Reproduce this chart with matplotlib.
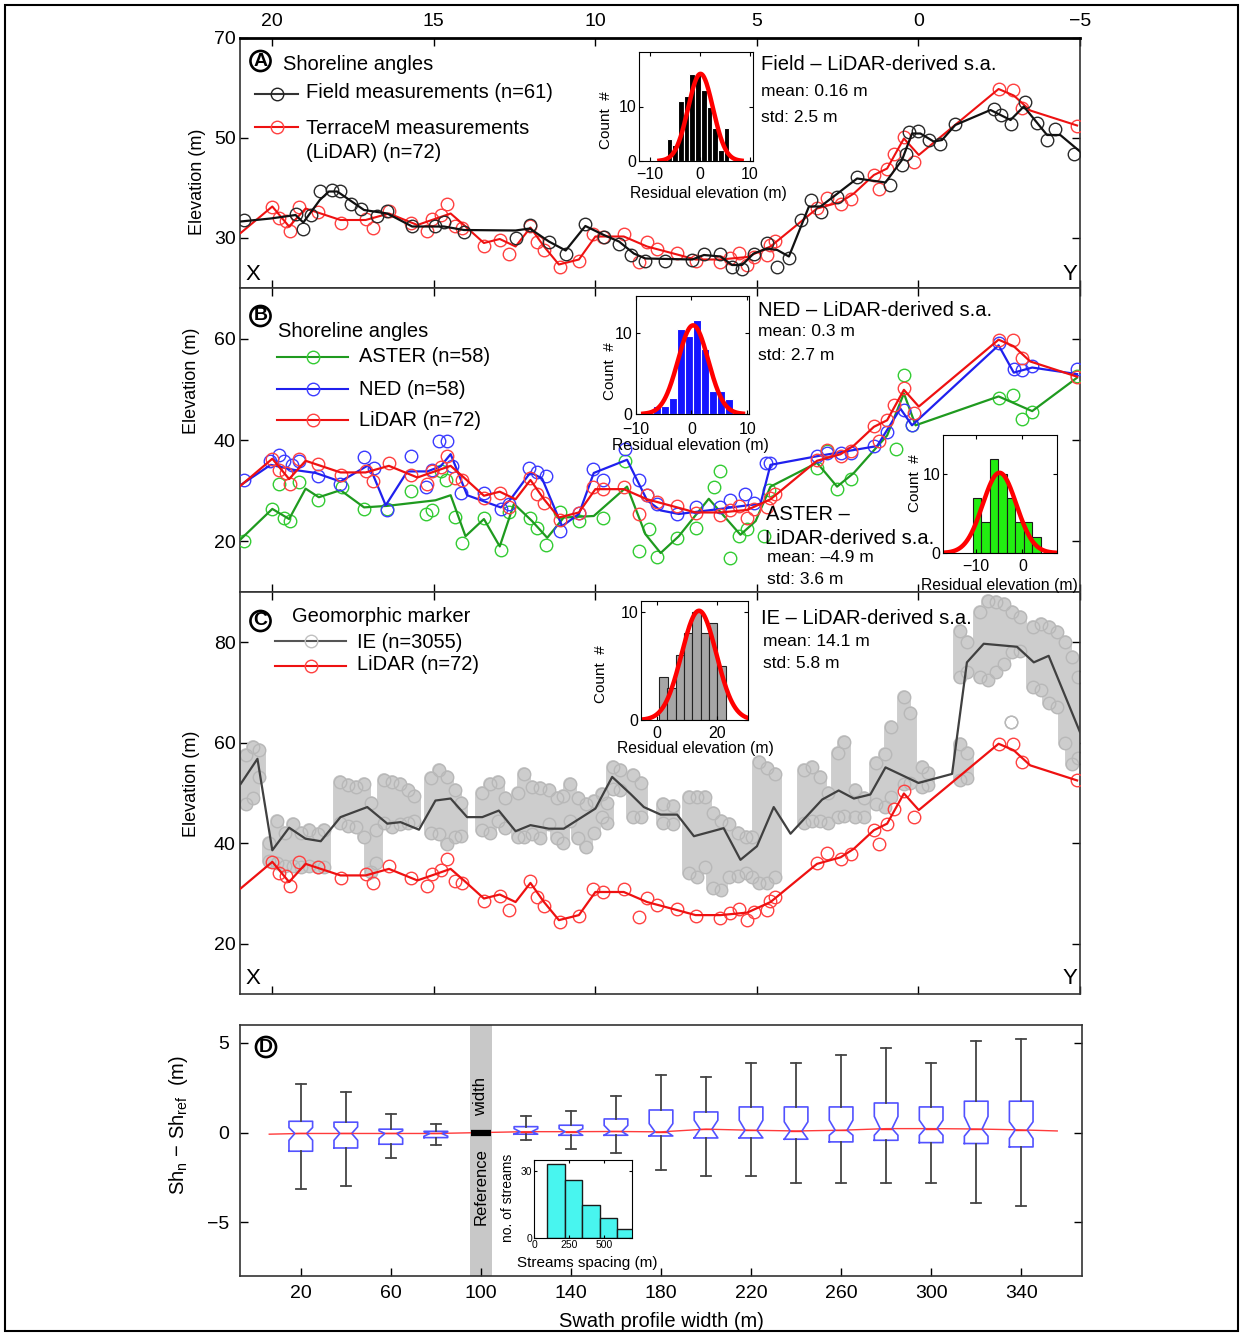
import matplotlib
matplotlib.use('Agg')
import matplotlib.pyplot as plt
import numpy as np
from matplotlib.lines import Line2D
from matplotlib.patches import Rectangle

plt.rcParams['font.family'] = ['Liberation Sans', 'DejaVu Sans']
plt.rcParams['mathtext.fontset'] = 'custom'
plt.rcParams['mathtext.rm'] = 'Liberation Sans'
plt.rcParams['mathtext.it'] = 'Liberation Sans'

W, H = 1242, 1334

# ---- shoreline angles along the profile (distance in km, elevation in m) ----
field_km = [20.88, 19.28, 19.04, 18.81, 18.53, 18.14, 17.89, 17.55, 17.24, 16.75,
            16.44, 15.67, 14.95, 14.69, 14.07, 12.47, 12.03, 11.44, 10.92, 10.31,
            9.74, 9.27, 8.91, 8.45, 7.83, 7.0, 6.64, 6.13, 5.77, 5.46,
            5.1, 4.68, 4.37, 4.01, 3.65, 3.34, 3.03, 2.52, 1.9, 0.87,
            0.51, 0.4, 0.3, 0.0, -0.32, -0.68, -1.14, -2.33, -2.54, -2.85,
            -3.31, -3.67, -3.98, -4.24, -4.8]
field_elev = [33.6, 34.9, 31.9, 34.6, 39.5, 39.7, 39.5, 36.8, 35.9, 34.4,
              35.5, 32.4, 32.4, 33.3, 31.3, 30.1, 32.6, 29.3, 26.9, 32.9,
              30.3, 28.9, 26.6, 25.5, 25.5, 25.6, 26.8, 26.8, 24.3, 23.9,
              26.9, 29.1, 24.3, 26.1, 33.6, 37.6, 35.3, 38.3, 42.3, 40.6,
              44.6, 46.9, 51.3, 51.5, 49.6, 48.9, 52.9, 55.9, 54.6, 52.9,
              57.3, 53.1, 49.6, 51.9, 46.9]
field_line_km = [20.98, 20.05, 19.28, 19.04, 18.53, 18.25, 17.99, 17.16, 16.44, 15.67,
                 14.69, 14.07, 12.47, 12.03, 11.44, 10.92, 10.31, 9.74, 9.27, 8.81,
                 8.45, 7.0, 6.64, 6.13, 5.77, 5.46, 5.1, 4.68, 4.37, 4.01,
                 3.39, 3.03, 1.9, 1.02, 0.51, 0.2, -0.06, -0.47, -0.73, -1.14,
                 -2.23, -2.85, -3.26, -3.98, -4.39, -5.0]
field_line_elev = [33.3, 33.9, 34.6, 33.1, 37.6, 39.3, 39.3, 35.6, 34.9, 32.3,
                   32.3, 31.6, 31.5, 31.9, 29.3, 27.5, 32.4, 30.6, 29.3, 26.9,
                   25.9, 25.7, 26.6, 26.3, 24.6, 24.6, 26.9, 27.9, 27.6, 26.3,
                   36.3, 36.3, 41.9, 41.1, 45.6, 50.9, 50.9, 49.3, 49.6, 52.6,
                   55.6, 53.6, 56.3, 50.6, 50.6, 47.3]

lidar_km = [20.0, 19.79, 19.59, 19.45, 19.17, 18.59, 17.87, 17.11, 16.88, 16.39,
            15.72, 15.22, 15.05, 14.79, 14.59, 14.36, 14.12, 13.45, 12.96, 12.68,
            12.01, 11.82, 11.59, 11.1, 10.51, 10.07, 9.76, 9.1, 8.65, 8.4,
            8.09, 7.47, 6.9, 6.13, 5.82, 5.56, 5.3, 5.1, 4.68, 4.58,
            4.43, 3.14, 2.83, 2.41, 2.1, 1.38, 1.23, 0.97, 0.76, 0.45,
            0.15, -2.48, -2.92, -3.21, -4.91]
lidar_elev = [36.3, 34.0, 33.4, 31.4, 36.3, 35.3, 33.1, 33.9, 32.0, 35.4,
              33.1, 31.4, 33.9, 34.7, 36.9, 32.5, 32.1, 28.5, 29.6, 26.8,
              32.5, 29.3, 27.6, 24.3, 25.5, 30.8, 30.3, 30.8, 25.3, 29.2,
              27.8, 27.0, 25.5, 25.2, 26.1, 27.0, 24.7, 26.3, 26.7, 28.6,
              29.4, 36.1, 38.1, 36.9, 37.9, 42.7, 39.9, 43.9, 46.9, 50.3,
              45.3, 59.8, 59.7, 56.1, 52.5]
lidar_line_km = [20.98, 20.0, 19.48, 18.97, 17.89, 17.11, 16.39, 15.51, 14.48, 14.07,
                 13.45, 12.96, 12.47, 12.01, 11.59, 11.13, 10.51, 10.0, 9.12, 8.4,
                 7.47, 6.9, 6.13, 5.3, 4.58, 3.14, 2.41, 2.0, 1.38, 0.97,
                 0.45, -0.01, -2.48, -2.95, -3.46, -4.91]
lidar_line_elev = [31.0, 36.3, 32.3, 35.9, 33.6, 33.6, 34.9, 32.6, 34.9, 32.6,
                   29.0, 29.8, 28.3, 32.1, 28.3, 24.7, 25.7, 30.3, 30.3, 28.3,
                   26.7, 25.7, 25.7, 26.2, 28.3, 35.9, 37.2, 38.9, 42.6, 43.9,
                   49.9, 46.6, 59.8, 58.5, 55.5, 52.5]

ned_km = [20.88, 20.07, 19.79, 19.64, 19.38, 19.17, 18.59, 17.89, 17.16, 16.85,
          16.44, 15.72, 15.25, 15.05, 14.84, 14.59, 14.43, 14.17, 13.45, 12.93,
          12.68, 12.06, 11.82, 11.54, 11.08, 10.51, 10.07, 9.76, 9.07, 8.66,
          8.4, 8.09, 7.47, 6.9, 6.13, 5.82, 5.36, 5.1, 4.73, 4.58,
          3.14, 2.83, 2.41, 2.1, 1.38, 0.97, 0.45, 0.2, -2.48, -2.95,
          -3.21, -3.52, -4.91]
ned_elev = [32.2, 35.8, 37.1, 35.8, 35.1, 35.8, 32.9, 31.4, 36.7, 34.5,
            26.2, 36.8, 30.8, 34.1, 39.8, 39.8, 34.8, 29.6, 29.6, 26.4,
            27.4, 34.5, 33.6, 32.8, 22.0, 25.5, 34.3, 32.2, 38.2, 32.2,
            29.1, 27.4, 25.4, 26.7, 26.7, 28.1, 29.4, 27.5, 35.5, 35.5,
            36.8, 37.5, 37.5, 37.5, 38.8, 41.5, 45.9, 42.9, 59.1, 54.0,
            53.8, 54.6, 54.0]
ned_line_km = [20.98, 20.05, 19.33, 18.66, 17.89, 17.01, 16.49, 15.82, 15.2, 14.79,
               14.48, 13.97, 12.93, 12.65, 12.01, 11.65, 11.03, 10.51, 10.05, 9.02,
               8.4, 7.98, 7.42, 6.13, 5.3, 4.89, 4.58, 3.14, 1.28, 0.56,
               0.2, -2.48, -2.95, -3.52, -4.91]
ned_line_elev = [31.1, 35.1, 34.1, 33.5, 31.8, 35.1, 27.1, 33.8, 33.8, 34.8,
                 37.2, 29.1, 26.7, 28.1, 33.6, 32.4, 23.0, 25.4, 33.5, 36.1,
                 28.1, 26.1, 25.4, 26.4, 27.1, 27.4, 35.1, 36.8, 38.8, 46.2,
                 42.9, 58.7, 53.3, 54.3, 53.0]

aster_km = [20.88, 20.0, 19.79, 19.64, 19.45, 19.17, 18.59, 17.83, 17.16, 16.44,
            15.72, 15.25, 15.05, 14.79, 14.61, 14.36, 14.12, 13.45, 12.93, 12.68,
            12.01, 11.82, 11.54, 11.08, 10.51, 9.76, 9.07, 8.66, 8.35, 8.09,
            7.47, 6.9, 6.33, 6.13, 5.82, 5.56, 5.3, 4.79, 4.63, 3.14,
            2.83, 2.52, 2.1, 0.71, 0.45, 0.2, -2.48, -2.92, -3.21, -3.52,
            -4.91]
aster_elev = [20.0, 26.4, 31.4, 24.7, 24.0, 31.8, 28.1, 30.8, 26.4, 26.4,
              30.0, 25.4, 26.2, 33.8, 32.1, 24.9, 19.7, 24.7, 18.3, 25.7,
              24.7, 22.7, 19.3, 25.7, 24.0, 24.7, 35.8, 18.0, 22.4, 17.0,
              20.7, 22.7, 30.8, 33.8, 16.7, 21.0, 22.4, 21.0, 30.1, 34.5,
              37.8, 30.4, 32.4, 38.2, 52.8, 42.9, 48.2, 48.9, 44.2, 45.5,
              52.6]
aster_line_km = [20.98, 20.0, 19.48, 18.97, 18.56, 17.89, 17.16, 16.44, 14.95, 14.48,
                 14.02, 13.45, 12.96, 12.52, 11.96, 11.49, 10.98, 10.05, 9.02, 8.45,
                 7.98, 7.42, 6.49, 5.51, 5.04, 4.58, 3.14, 2.52, 2.0, 0.97,
                 0.45, 0.09, -2.48, -3.52, -4.91]
aster_line_elev = [20.4, 26.4, 24.4, 30.4, 28.7, 30.1, 26.7, 27.0, 28.1, 29.1,
                   21.0, 24.4, 19.0, 27.4, 24.0, 20.7, 24.7, 25.0, 30.8, 21.4,
                   17.7, 21.0, 28.4, 21.3, 24.0, 30.8, 35.5, 30.8, 33.5, 40.9,
                   49.2, 42.9, 48.6, 45.7, 52.3]

# IE geomorphic marker: stacks of points per position (bottom and top of each stack)
ie_km = [20.8, 20.6, 20.4,
         20.1, 19.85, 19.6, 19.35, 19.1, 18.85, 18.6, 18.4,
         17.9, 17.65, 17.4, 17.15, 16.95, 16.8,
         16.55, 16.3, 16.05, 15.8, 15.6,
         15.1, 14.85, 14.6, 14.35, 14.15,
         13.5, 13.25, 13.0, 12.8,
         12.4, 12.2, 11.95, 11.7, 11.45, 11.2, 11.0,
         10.8, 10.55, 10.3, 10.05, 9.8, 9.65,
         9.45, 9.25, 8.85, 8.6,
         7.9, 7.6,
         7.1, 6.85, 6.6, 6.35, 6.1, 5.85, 5.6, 5.35,
         5.15, 4.95, 4.7, 4.45,
         3.55, 3.3, 3.05, 2.8,
         2.5, 2.3,
         1.95, 1.7,
         1.3, 1.05, 0.85,
         0.45, 0.25,
         -0.1, -0.3,
         -1.3, -1.5,
         -1.3, -1.5, -1.9, -2.15, -2.4, -2.65, -2.9, -3.15, -3.55, -3.8,
         -4.05, -4.3, -4.55, -4.75, -4.95,
         -2.85]
ie_lo = [47.9, 49.0, 53.2,
         36.5, 36.0, 35.5, 35.5, 35.3, 35.5, 35.3, 35.3,
         44.0, 43.5, 43.2, 41.2, 34.3, 36.0,
         44.0, 43.2, 43.9, 44.0, 44.5,
         42.0, 41.9, 39.9, 41.2, 41.5,
         42.6, 42.0, 44.5, 43.0,
         41.2, 41.2, 41.9, 41.0, 43.9, 41.0, 40.0,
         44.5, 41.0, 39.2, 42.0, 45.2, 44.0,
         50.8, 50.5, 45.2, 45.2,
         44.0, 43.9,
         34.0, 33.3, 35.3, 31.0, 30.6, 33.3, 33.5, 34.0,
         33.3, 32.0, 32.0, 33.3,
         44.0, 44.5, 44.5, 44.0,
         45.2, 45.5,
         45.2, 45.2,
         47.9, 47.2, 49.2,
         51.8, 52.0,
         51.2, 51.5,
         52.5, 53.0,
         73.0, 74.0, 73.0, 72.4, 74.0, 75.7, 78.0, 78.3, 71.0, 70.4,
         68.0, 67.1, 60.0, 55.8, 57.0,
         64.1]
ie_hi = [57.5, 59.1, 58.5,
         40.0, 44.5, 42.0, 43.9, 42.0, 42.6, 41.9, 42.6,
         52.2, 51.5, 51.2, 51.8, 48.0, 42.6,
         52.5, 52.2, 51.8, 50.5, 49.5,
         53.0, 54.5, 53.2, 50.5, 48.0,
         50.0, 51.8, 52.2, 49.0,
         50.0, 53.8, 51.2, 51.0, 50.5, 49.0, 49.5,
         51.8, 49.0, 47.9, 48.5, 49.8, 48.0,
         55.1, 54.5, 53.5, 52.0,
         47.9, 47.5,
         49.2, 49.2, 49.2, 46.0, 44.5, 43.9, 42.0, 41.2,
         41.2, 56.1, 55.0, 53.8,
         54.5, 55.1, 53.2, 50.0,
         58.0, 60.1,
         50.5, 49.0,
         56.0, 57.7, 63.1,
         69.1, 66.0,
         55.1, 54.0,
         59.8, 58.0,
         82.3, 80.0, 86.0, 88.3, 88.0, 87.6, 86.0, 85.0, 83.0, 83.6,
         83.0, 82.0, 80.0, 77.0, 73.0,
         64.1]
ie_line_km = [20.98, 20.46, 20.0, 19.48, 18.97, 18.5, 17.89, 17.06, 16.44, 16.03,
              15.46, 14.95, 14.48, 13.97, 13.5, 12.99, 12.47, 12.01, 11.44, 10.98,
              10.0, 9.48, 8.91, 8.5, 7.98, 7.47, 6.95, 6.03, 5.51, 5.0,
              4.48, 3.96, 2.98, 2.47, 2.0, 1.49, 1.02, 0.0, -1.04, -1.5,
              -2.02, -3.05, -3.57, -4.03, -5.0]
ie_line_elev = [51.8, 56.8, 38.6, 43.1, 40.9, 40.4, 45.2, 47.2, 43.9, 44.2,
                42.7, 48.5, 48.9, 45.2, 45.2, 46.5, 42.4, 43.6, 42.9, 42.9,
                46.9, 53.2, 49.8, 47.2, 45.7, 45.7, 41.4, 43.0, 36.7, 39.4,
                47.2, 41.9, 48.7, 50.5, 48.9, 49.7, 55.1, 52.0, 53.8, 76.0,
                79.7, 79.1, 76.0, 77.3, 62.1]

# ---- residual histograms ----
field_res_bins = [-6.1, -4.95, -3.8, -2.65, -1.5, -0.35, 0.8, 1.95, 3.1, 4.25, 5.4]
field_res_counts = [4, 3, 11, 12, 16, 16, 13, 10, 6, 2, 6]
ned_res_bins = [-6.1, -4.68, -3.26, -1.84, -0.42, 1.0, 2.42, 3.84, 5.26, 6.68]
ned_res_counts = [1, 1, 2, 10.5, 9.6, 11.5, 8, 2.8, 2.8, 1.8]
aster_res_bins = [-9.7, -7.9, -6.1, -4.3, -2.5, -0.65, 1.2, 3.0]
aster_res_counts = [7, 4, 12, 10, 7, 4, 4, 2]
ie_res_bins = [2.2, 4.95, 7.7, 10.5, 13.3, 16.1, 18.8, 21.6]
ie_res_counts = [4, 3, 6, 8, 10, 8, 9, 5]

# ---- swath width sensitivity ----
swath_width = [20, 40, 60, 80, 120, 140, 160, 180, 200, 220, 240, 260, 280, 300, 320, 340]
sh_whishi = [2.73, 2.27, 1.06, 0.5, 0.91, 1.21, 2.04, 3.23, 3.1, 3.9, 3.9, 4.31, 4.7, 3.9, 5.13, 5.24]
sh_q3 = [0.63, 0.58, 0.19, 0.07, 0.33, 0.41, 0.76, 1.26, 1.15, 1.43, 1.43, 1.43, 1.65, 1.43, 1.75, 1.75]
sh_med = [-0.05, -0.05, -0.05, -0.05, 0.05, 0.05, 0.06, 0.04, 0.19, 0.13, 0.09, 0.13, 0.22, 0.22, 0.2, 0.15]
sh_q1 = [-1.04, -0.86, -0.65, -0.28, -0.09, -0.15, -0.15, -0.19, -0.3, -0.3, -0.37, -0.52, -0.43, -0.56, -0.61, -0.8]
sh_whislo = [-3.16, -2.97, -1.41, -0.69, -0.43, -0.89, -1.13, -2.1, -2.42, -2.43, -2.84, -2.84, -2.84, -2.84, -3.92, -4.07]
sh_cihi = [0.28, 0.32, 0.1, 0.04, 0.22, 0.22, 0.4, 0.5, 0.69, 0.69, 0.6, 0.69, 0.9, 0.69, 0.9, 0.6]
sh_cilo = [-0.43, -0.43, -0.33, -0.2, -0.09, -0.15, -0.15, -0.19, -0.3, -0.3, -0.37, -0.15, -0.15, -0.15, -0.2, -0.33]
ref_width = 100
trend_width = [6, 20, 40, 60, 80, 100, 120, 140, 160, 180, 200, 220, 240, 260, 280, 300, 320, 340, 356]
trend_diff = [-0.09, -0.05, -0.05, -0.05, -0.05, 0.0, 0.05, 0.05, 0.06, 0.04, 0.19, 0.13,
              0.09, 0.13, 0.22, 0.22, 0.2, 0.15, 0.09]
spacing_bins = [158.5, 283.5, 408.5, 533.5, 658.5]
spacing_counts = [33, 26, 15, 9, 4]

fig = plt.figure(figsize=(W / 100, H / 100), dpi=100)


def px_axes(l, t, r, b):
    return fig.add_axes([l / W, 1 - b / H, (r - l) / W, (b - t) / H])


def ftext(x, y, s, **kw):
    kw.setdefault('va', 'center')
    kw.setdefault('ha', 'left')
    return fig.text(x / W, 1 - y / H, s, **kw)


def key(x0, x1, y, lc, mc):
    fy = 1 - y / H
    fig.add_artist(Line2D([x0 / W, x1 / W], [fy, fy], color=lc, lw=1.5))
    fig.add_artist(Line2D([(x0 + x1) / 2 / W], [fy], ls='none', marker='o', ms=9,
                          mfc='none', mec=mc, mew=1.0))


def badge(x, y, s):
    ftext(x, y, s, ha='center', fontsize=14, fontweight='bold',
          bbox=dict(boxstyle='circle,pad=0.08', fc='white', ec='black', lw=1.9))


def profile_axes(ax, ylim, yticks, lab_x, lab_y):
    ax.set_xlim(21, -5)
    ax.set_ylim(*ylim)
    ax.set_xticks([20, 15, 10, 5, 0, -5])
    ax.set_yticks(yticks)
    ax.tick_params(direction='in', top=True, right=True, length=6, width=1,
                   labelsize=14, labelbottom=False, pad=3)
    ax.set_ylabel('Elevation (m)', fontsize=13)
    ax.yaxis.set_label_coords(lab_x, lab_y)
    for sp in ax.spines.values():
        sp.set_linewidth(1.2)
        sp.set_color('#333333')


def pts(ax, km, elev, color, z=3):
    ax.plot(km, elev, ls='none', marker='o', ms=9, mfc='none', mec=color, mew=1.0, zorder=z)


def hist_inset(rect, centers, counts, width, fc, ec, xlim, ylim, xticks, yticks,
               mean, std, amp, ylab, xlab, xpad=4.5):
    ax = px_axes(*rect)
    ax.bar(centers, counts, width=width, color=fc, edgecolor=ec, linewidth=0.8)
    xs = np.linspace(mean - 3.3 * std, mean + 3.3 * std, 200)
    ax.plot(xs, amp * np.exp(-0.5 * ((xs - mean) / std) ** 2), color='#ff0000', lw=3.2)
    ax.set_xlim(*xlim)
    ax.set_ylim(*ylim)
    ax.set_xticks(xticks)
    ax.set_yticks(yticks)
    ax.tick_params(direction='in', top=True, right=True, length=3, labelsize=11.5, pad=2)
    ax.tick_params(axis='x', pad=xpad)
    ax.set_ylabel('Count  #', fontsize=11)
    ax.yaxis.set_label_coords(*ylab)
    ax.set_xlabel('Residual elevation (m)', fontsize=11.3)
    ax.xaxis.set_label_coords(*xlab)
    return ax


# ---------------- panel A ----------------
axa = px_axes(240, 38, 1080, 288)
pts(axa, lidar_km, lidar_elev, '#ff4040')
axa.plot(lidar_line_km, lidar_line_elev, color='#ee1111', lw=1.5, zorder=4)
pts(axa, field_km, field_elev, '#2a2a2a', z=5)
axa.plot(field_line_km, field_line_elev, color='#111111', lw=1.6, zorder=6)
profile_axes(axa, (20, 70), [30, 50, 70], -0.040, 0.424)
axa.tick_params(axis='x', labeltop=True, pad=6)
axa.spines['top'].set_linewidth(2)
axa.spines['top'].set_color('black')

badge(260.5, 61, 'A')
ftext(283, 65, 'Shoreline angles', fontsize=14.5)
key(255, 298, 94, '#333333', '#222222')
ftext(306, 93, 'Field measurements (n=61)', fontsize=14.5)
key(255, 298, 127, '#ee1111', '#ff4040')
ftext(306, 128, 'TerraceM measurements', fontsize=14.5)
ftext(306, 153, '(LiDAR) (n=72)', fontsize=14.5)
ftext(761, 64, 'Field – LiDAR-derived s.a.', fontsize=14.5)
ftext(761, 92, 'mean: 0.16 m', fontsize=12.5)
ftext(761, 117, 'std: 2.5 m', fontsize=12.5)
ftext(253, 275, 'X', ha='center', fontsize=16)
ftext(1070, 274, 'Y', ha='center', fontsize=16)

# ---------------- panel B ----------------
axb = px_axes(240, 288, 1080, 592)
pts(axb, aster_km, aster_elev, '#33cc33')
axb.plot(aster_line_km, aster_line_elev, color='#1f9a1f', lw=1.6, zorder=4)
pts(axb, ned_km, ned_elev, '#3b3bff', z=5)
axb.plot(ned_line_km, ned_line_elev, color='#2020ee', lw=1.6, zorder=6)
pts(axb, lidar_km, lidar_elev, '#ff4040', z=7)
axb.plot(lidar_line_km, lidar_line_elev, color='#ee1111', lw=1.6, zorder=8)
profile_axes(axb, (10, 70), [20, 40, 60], -0.048, 0.694)

badge(260.5, 316, 'B')
ftext(278, 332, 'Shoreline angles', fontsize=14.5)
key(277, 348, 357, '#1f9a1f', '#33cc33')
ftext(359, 357, 'ASTER (n=58)', fontsize=14.5)
key(277, 348, 389, '#2020ee', '#3b3bff')
ftext(359, 389, 'NED (n=58)', fontsize=14.5)
key(277, 348, 420, '#ee1111', '#ff4040')
ftext(359, 420, 'LiDAR (n=72)', fontsize=14.5)
ftext(758, 310, 'NED – LiDAR-derived s.a.', fontsize=14.5)
ftext(758, 331, 'mean: 0.3 m', fontsize=12.5)
ftext(758, 355, 'std: 2.7 m', fontsize=12.5)
ftext(766, 515, 'ASTER –', fontsize=14.5)
ftext(765, 539, 'LiDAR-derived s.a.', fontsize=14.5)
ftext(767, 558, 'mean: –4.9 m', fontsize=12.5)
ftext(767, 580, 'std: 3.6 m', fontsize=12.5)

# ---------------- panel C ----------------
axc = px_axes(240, 592, 1080, 994)
axc.vlines(ie_km, ie_lo, ie_hi, color='#cdcdcd', lw=10, capstyle='round', zorder=2)
pts(axc, ie_km, ie_lo, '#b8b8b8', z=2)
pts(axc, ie_km, ie_hi, '#b8b8b8', z=2)
axc.plot(ie_line_km, ie_line_elev, color='#404040', lw=1.6, zorder=4)
pts(axc, lidar_km, lidar_elev, '#ff4040', z=5)
axc.plot(lidar_line_km, lidar_line_elev, color='#ee1111', lw=1.6, zorder=6)
profile_axes(axc, (10, 90), [20, 40, 60, 80], -0.048, 0.522)

badge(260.5, 621, 'C')
ftext(292, 616, 'Geomorphic marker', fontsize=14.5)
key(275, 346, 641, '#555555', '#c0c0c0')
ftext(357, 642, 'IE (n=3055)', fontsize=14.5)
key(275, 346, 666, '#ee1111', '#ff4040')
ftext(357, 665, 'LiDAR (n=72)', fontsize=14.5)
ftext(761, 618, 'IE – LiDAR-derived s.a.', fontsize=14.5)
ftext(763, 641, 'mean: 14.1 m', fontsize=12.5)
ftext(763, 664, 'std: 5.8 m', fontsize=12.5)
ftext(253, 978, 'X', ha='center', fontsize=16)
ftext(1070, 978, 'Y', ha='center', fontsize=16)

# ---------------- residual histograms ----------------
hist_inset((639, 52, 753, 161), field_res_bins, field_res_counts, 1.15, 'black', 'white',
           (-12.2, 10.7), (0, 20), [-10, 0, 10], [0, 10], 0.16, 2.5, 16,
           (-0.23, 0.376), (0.605, -0.23))
hist_inset((635.5, 296, 748.5, 414), ned_res_bins, ned_res_counts, 1.42, '#1414ff', 'white',
           (-10, 10.2), (0, 14.5), [-10, 0, 10], [0, 10], 0.3, 2.7, 10.9,
           (-0.166, 0.364), (0.482, -0.2), xpad=6)
hist_inset((943, 435, 1057, 553), aster_res_bins, aster_res_counts, 1.81, '#22ee11', '#1a1a1a',
           (-17, 7.4), (0, 15), [-10, 0], [0, 10], -4.9, 3.6, 10.2,
           (-0.184, 0.589), (0.497, -0.212))
hist_inset((641, 601, 748, 720), ie_res_bins, ie_res_counts, 2.78, '#a6a6a6', '#222222',
           (-5.3, 30.5), (0, 11), [0, 20], [0, 10], 14.1, 5.8, 10.1,
           (-0.31, 0.387), (0.505, -0.176))

# ---------------- panel D ----------------
axd = px_axes(240, 1025, 1082, 1276)
axd.axvspan(ref_width - 5, ref_width + 5, color='#c8c8c8', lw=0, zorder=0)
axd.plot(trend_width, trend_diff, color='#ff3b3b', lw=1.0, zorder=2)
stats = []
for i in range(len(swath_width)):
    stats.append(dict(med=sh_med[i], q1=sh_q1[i], q3=sh_q3[i], whislo=sh_whislo[i],
                      whishi=sh_whishi[i], cilo=sh_cilo[i], cihi=sh_cihi[i], fliers=[]))
axd.bxp(stats, positions=swath_width, widths=10.5, shownotches=True, showfliers=False,
        manage_ticks=False, capwidths=4.2,
        boxprops=dict(color='#5252ff', lw=1.2),
        whiskerprops=dict(color='#444444', lw=1.3),
        capprops=dict(color='#444444', lw=1.3),
        medianprops=dict(color='#ff3030', lw=1.0))
axd.plot([ref_width - 4.5, ref_width + 4.5], [0, 0], color='black', lw=4.5,
         solid_capstyle='butt', zorder=5)
axd.text(ref_width, 2.0, 'width', rotation=90, ha='center', va='center', fontsize=12)
axd.text(ref_width, -3.0, 'Reference', rotation=90, ha='center', va='center', fontsize=12)
axd.set_xlim(-7, 367)
axd.set_ylim(-8, 6)
axd.set_xticks(list(range(20, 341, 40)))
axd.set_yticks([-5, 0, 5])
axd.tick_params(direction='in', right=True, length=6, width=1, labelsize=14)
axd.tick_params(axis='x', pad=6.5)
axd.tick_params(axis='y', pad=8)
for sp in axd.spines.values():
    sp.set_linewidth(1.2)
    sp.set_color('#333333')
axd.set_xlabel('Swath profile width (m)', fontsize=14.5, labelpad=7)
axd.set_ylabel(r'Sh$_\mathregular{n}$ − Sh$_\mathregular{ref}$  (m)', fontsize=14.5)
axd.yaxis.set_label_coords(-0.059, 0.60)
badge(266, 1047, 'D')

# stream spacing inset
axs = px_axes(534, 1160, 632, 1238)
axs.bar(spacing_bins, spacing_counts, width=125, color='#48f5ef', edgecolor='#1a1a1a', lw=1.0)
axs.set_xlim(0, 700)
axs.set_ylim(0, 35)
axs.set_xticks([0, 250, 500])
axs.set_yticks([0, 30])
axs.tick_params(direction='in', top=True, right=True, length=2.5, labelsize=7.5, pad=1.5)
axs.set_ylabel('no. of streams', fontsize=10)
axs.yaxis.set_label_coords(-0.19, 0.51)
axs.set_xlabel('Streams spacing (m)', fontsize=11)
axs.xaxis.set_label_coords(0.54, -0.23)

# outer frame
fig.add_artist(Rectangle((5 / W, 1 - 1331 / H), 1233 / W, 1326 / H, fill=False,
                         ec='black', lw=1.5, transform=fig.transFigure))

fig.savefig('out.png', dpi=100)
